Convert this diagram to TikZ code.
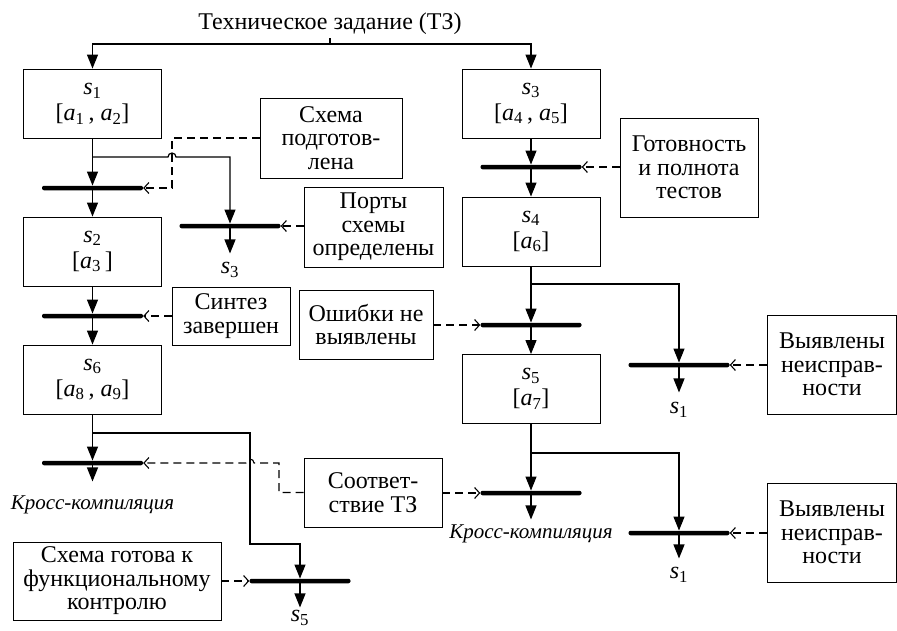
\documentclass[tikz,border=0pt]{standalone}
\usepackage{fontspec}
\setmainfont{Liberation Serif}
\usetikzlibrary{arrows.meta}
\usetikzlibrary{positioning}
\newcommand{\ix}[2]{\textit{#1}\textsubscript{#2}}

\begin{document}
\begin{tikzpicture}[x=1pt,y=-1pt,
  every node/.style={font=\fontsize{24}{23.5}\selectfont},
  stbox/.style={draw,line width=0.9pt,minimum width=138pt,minimum height=69pt,align=center,inner sep=2pt,font=\fontsize{24}{26}\selectfont},
  cond/.style={draw,line width=0.9pt,align=center,inner sep=2pt},
  bar/.style={fill=black,minimum width=101pt,minimum height=4.5pt,inner sep=0pt,rounded corners=2pt},
  lbl/.style={inner sep=0pt},
  kross/.style={inner sep=0pt,font=\fontsize{21}{21}\selectfont\itshape},
  arr/.style={line width=1.2pt,-{Triangle[length=14pt,width=11pt]}},
  dsh/.style={line width=1.1pt,dash pattern=on 8pt off 5pt,-{Straight Barb[length=5pt,width=11pt]}}]

  \useasboundingbox (0,0) rectangle (897,630);

  \node[lbl,anchor=base] (tz) at (330,29) {Техническое задание (ТЗ)};
  \coordinate (top) at (330,44);

  \node[stbox] (s1) at (92.5,103.5) {\ix{s}{1}\\{}[\ix{a}{1}\,, \ix{a}{2}]};
  \node[stbox] (s2) at (92.5,251.5) {\ix{s}{2}\\{}[\ix{a}{3}\,]};
  \node[stbox] (s6) at (92.5,379.5) {\ix{s}{6}\\{}[\ix{a}{8}\,, \ix{a}{9}]};
  \node[stbox] (s3) at (531,103.5) {\ix{s}{3}\\{}[\ix{a}{4}\,, \ix{a}{5}]};
  \node[stbox] (s4) at (531,231.5) {\ix{s}{4}\\{}[\ix{a}{6}]};
  \node[stbox] (s5) at (531,389) {\ix{s}{5}\\{}[\ix{a}{7}]};

  \node[bar] (b1) at (92.5,188) {};
  \node[bar] (b2) at (230,226) {};
  \node[bar] (b3) at (92.5,316) {};
  \node[bar] (b4) at (92.5,463) {};
  \node[bar] (b5) at (531,167) {};
  \node[bar] (b6) at (531,325) {};
  \node[bar] (b7) at (679,365) {};
  \node[bar] (b8) at (531,493) {};
  \node[bar] (b9) at (679,533) {};
  \node[bar] (b10) at (300,581) {};

  \node[cond,minimum width=142pt,minimum height=80pt] (podg) at (331,138) {Схема\\подготов-\\лена};
  \node[cond,minimum width=139pt,minimum height=80pt] (ports) at (373.5,227) {Порты\\схемы\\определены};
  \node[cond,minimum width=118pt,minimum height=58pt] (sint) at (231,316) {Синтез\\завершен};
  \node[cond,minimum width=138pt,minimum height=99pt] (gotov) at (689,167.5) {Готовность\\и полнота\\тестов};
  \node[cond,minimum width=134pt,minimum height=69pt] (osh) at (366,324.5) {Ошибки не\\выявлены};
  \node[cond,minimum width=129pt,minimum height=99pt] (vyy1) at (832,364.5) {Выявлены\\неисправ-\\ности};
  \node[cond,minimum width=129pt,minimum height=99pt] (vyy2) at (832,532.5) {Выявлены\\неисправ-\\ности};
  \node[cond,minimum width=138pt,minimum height=69pt] (sootv) at (373,492.5) {Соответ-\\ствие ТЗ};
  \node[cond,minimum width=208pt,minimum height=78pt] (gotova) at (117,581) {Схема готова к\\функциональному\\контролю};

  \node[lbl,below=34pt of b2] (l3) {\ix{s}{3}};
  \node[kross,below=30pt of b4] (kc1) {Кросс-компиляция};
  \node[kross,below=29pt of b8] (kc2) {Кросс-компиляция};
  \node[lbl,below=35pt of b7] (l1a) {\ix{s}{1}};
  \node[lbl,below=32pt of b9] (l1b) {\ix{s}{1}};
  \node[lbl,below=27pt of b10] (l5) {\ix{s}{5}};

  \coordinate (j1) at (92.5,157);
  \coordinate (j4) at (92.5,433);
  \coordinate (j6) at (531,284);
  \coordinate (j8) at (531,453);

  \draw[line width=1.2pt] ([yshift=-4pt]tz.south) -- (top);
  \draw[arr] (top) -| (s1);
  \draw[arr] (top) -| (s3);

  \draw[arr] (s1) -- (b1);
  \draw[arr] (b1) -- (s2);
  \draw[arr] (s2) -- (b3);
  \draw[arr] (b3) -- (s6);
  \draw[arr] (s6) -- (b4);
  \draw[arr,shorten >=14pt] (b4) -- (kc1);
  \draw[arr] (j1) -- (168,157) arc[start angle=180,end angle=0,radius=4pt] -| (b2);
  \draw[arr,shorten >=9pt] (b2) -- (l3);
  \draw[arr] (j4) -| (250,544) -| (b10);
  \draw[arr,shorten >=3pt] (b10) -- (l5);

  \draw[arr] (s3) -- (b5);
  \draw[arr] (b5) -- (s4);
  \draw[arr] (s4) -- (b6);
  \draw[arr] (b6) -- (s5);
  \draw[arr] (s5) -- (b8);
  \draw[arr,shorten >=5pt] (b8) -- (kc2);
  \draw[arr] (j6) -| (b7);
  \draw[arr,shorten >=10pt] (b7) -- (l1a);
  \draw[arr] (j8) -| (b9);
  \draw[arr,shorten >=9pt] (b9) -- (l1b);

  \draw[dsh] (podg.west) -| (172,188) -- (b1.east);
  \draw[dsh] (ports.west |- b2) -- (b2.east);
  \draw[dsh] (sint.west |- b3) -- (b3.east);
  \draw[dsh] (sootv.west) -| (279,463) -- (254,463) arc[start angle=0,end angle=180,radius=4pt] -- (b4.east);
  \draw[dsh] (gotova.east |- b10) -- (b10.west);
  \draw[dsh] (gotov.west |- b5) -- (b5.east);
  \draw[dsh] (osh.east |- b6) -- (b6.west);
  \draw[dsh] (vyy1.west |- b7) -- (b7.east);
  \draw[dsh] (sootv.east |- b8) -- (b8.west);
  \draw[dsh] (vyy2.west |- b9) -- (b9.east);
\end{tikzpicture}
\end{document}
